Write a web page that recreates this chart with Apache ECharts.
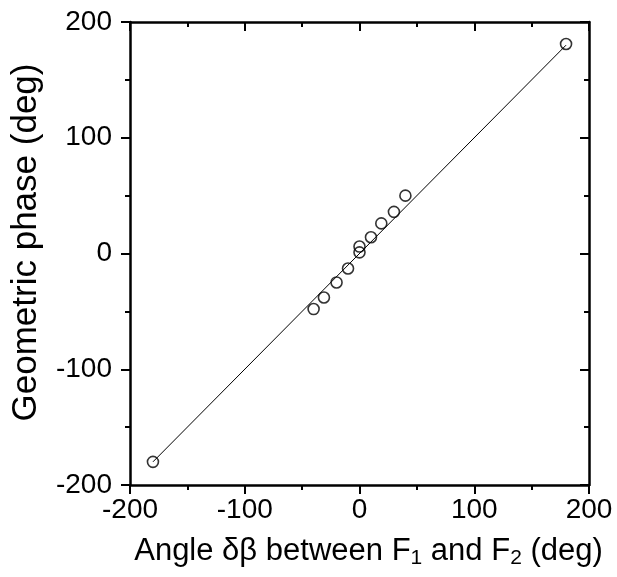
<!DOCTYPE html>
<html><head><meta charset="utf-8">
<script src="https://cdn.jsdelivr.net/npm/echarts@6/dist/echarts.min.js"></script>
<style>html,body{margin:0;padding:0;background:#fff}#c{width:617px;height:577px}</style>
</head><body><div id="c"></div>
<script>
// Measured points: angle δβ (deg) vs geometric phase (deg)
const angleX = [-180, -40, -31, -20, -10, 0, 0, 10, 19, 30, 40, 180];
const phaseY = [-180, -48, -38, -25, -13, 1, 6, 14, 26, 36, 50, 181];
// Fit line endpoints
const fitX = [-180, 180];
const fitY = [-180, 180];
// Axis ticks
const xTicks = [-200, -100, 0, 100, 200];
const yTicks = [-200, -100, 0, 100, 200];

const FONT = '"Liberation Sans", Arial, Helvetica, sans-serif';
const chart = echarts.init(document.getElementById('c'), null, {renderer: 'canvas'});

function axisCommon() {
  return {
    type: 'value', min: xTicks[0], max: xTicks[xTicks.length - 1], interval: 100,
    axisLine: {show: true, onZero: false, lineStyle: {color: '#000', width: 2.5}},
    splitLine: {show: false},
  };
}
const pts = angleX.map((x, i) => [x, phaseY[i]]);
const fit = fitX.map((x, i) => [x, fitY[i]]);

chart.setOption({
  animation: false,
  grid: {left: 130, right: 28, top: 22, bottom: 92, containLabel: false},
  xAxis: [
    Object.assign(axisCommon(), {
      position: 'bottom',
      name: 'Angle δβ between F{sub|1} and F{sub|2} (deg)',
      nameLocation: 'middle', nameGap: 49,
      nameTextStyle: {color: '#000', fontSize: 31, fontFamily: FONT, padding: [0, 0, 0, 18],
        rich: {sub: {fontSize: 21, fontFamily: FONT, color: '#000', padding: [14, 0, 0, 0]}}},
      axisTick: {show: true, inside: false, length: 9, lineStyle: {color: '#000', width: 2}},
      minorTick: {show: true, splitNumber: 2, length: 5, lineStyle: {color: '#000', width: 2}},
      axisLabel: {color: '#000', fontSize: 28, fontFamily: FONT, margin: 11}
    }),
    Object.assign(axisCommon(), {
      position: 'top',
      axisTick: {show: true, inside: true, length: 9, lineStyle: {color: '#000', width: 2}},
      minorTick: {show: true, splitNumber: 2, length: 5, lineStyle: {color: '#000', width: 2}},
      axisLabel: {show: false}
    })
  ],
  yAxis: [
    Object.assign(axisCommon(), {
      min: yTicks[0], max: yTicks[yTicks.length - 1],
      position: 'left',
      name: 'Geometric phase (deg)',
      nameLocation: 'middle', nameGap: 86, nameRotate: 90,
      nameTextStyle: {color: '#000', fontSize: 35, fontFamily: FONT, padding: [0, 0, 0, 22]},
      axisTick: {show: true, inside: false, length: 9, lineStyle: {color: '#000', width: 2}},
      minorTick: {show: true, splitNumber: 2, length: 5, lineStyle: {color: '#000', width: 2}},
      axisLabel: {color: '#000', fontSize: 28, fontFamily: FONT, margin: 18}
    }),
    Object.assign(axisCommon(), {
      min: yTicks[0], max: yTicks[yTicks.length - 1],
      position: 'right',
      axisTick: {show: true, inside: true, length: 9, lineStyle: {color: '#000', width: 2}},
      minorTick: {show: true, splitNumber: 2, length: 5, lineStyle: {color: '#000', width: 2}},
      axisLabel: {show: false}
    })
  ],
  series: [
    {type: 'line', data: fit, xAxisIndex: 0, yAxisIndex: 0, symbol: 'none',
     lineStyle: {color: '#000', width: 1}, z: 2},
    {type: 'scatter', data: pts, xAxisIndex: 0, yAxisIndex: 0, symbol: 'circle', symbolSize: 11,
     itemStyle: {color: 'rgba(255,255,255,0)', borderColor: '#000', borderWidth: 1.6}, z: 3}
  ]
});
</script></body></html>
